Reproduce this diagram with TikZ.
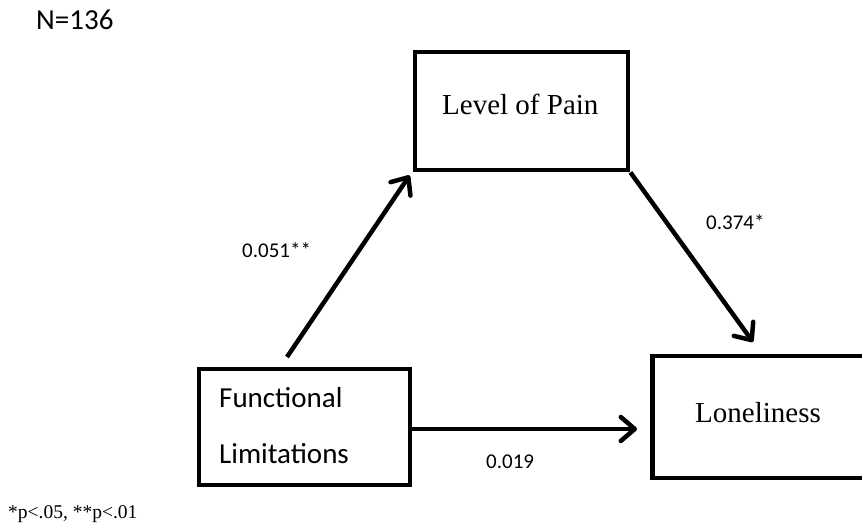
\documentclass[tikz,border=0pt]{standalone}
\usepackage{fontspec}
\setmainfont{Liberation Serif}
\newfontfamily\calibri{Carlito}
\usetikzlibrary{arrows.meta}
\begin{document}
\begin{tikzpicture}[x=1pt,y=-1pt,
  box/.style={draw=black,line width=4.8pt,inner sep=0pt,fill=white},
  arr/.style={draw=black,line width=4.5pt,-{Straight Barb[length=14pt,width=24pt,round]}},
  sans/.style={font=\calibri\fontsize{29}{34}\selectfont,anchor=base west,inner sep=0pt},
  num/.style={font=\calibri\fontsize{21}{25}\selectfont,anchor=base west,inner sep=0pt},
  serif/.style={font=\fontsize{29}{34}\selectfont,anchor=base west,inner sep=0pt}]
\clip (0,0) rectangle (862,529);
\fill[white] (0,0) rectangle (862,529);
% boxes
\node[box,minimum width=213pt,minimum height=118pt] (lp) at (521.5,111) {};
\node[box,minimum width=211pt,minimum height=116pt] (fl) at (304.5,427) {};
\node[box,minimum width=228pt,minimum height=122pt] (lon) at (766.5,417) {};
% box texts
\node[serif] (lpt) at (442,115) {Level of Pain};
\node[sans] (flt1) at (219,407) {Functional};
\node[sans] (flt2) at (219,463) {Limitations};
\node[serif] (lont) at (695,422) {Loneliness};
% free ends
\coordinate (s1) at (287,357);
\coordinate (t2) at (753,342);
\coordinate (t3) at (637,429);
\coordinate (s3) at (410,429);
% connectors
\draw[arr] (s1) -- ([shift={(-3,3)}]lp.south west);
\draw[arr] (lp.south east) -- (t2);
\draw[arr] (s3) -- (t3);
% labels
\node[sans] (n) at (36,30) {N=136};
\node[num] (l1) at (242,258) {0.051**};
\node[num] (l2) at (706,230) {0.374*};
\node[num] (l3) at (486,468) {0.019};
\node[font=\fontsize{19.5}{23}\selectfont,anchor=base west,inner sep=0pt] (fn) at (8,518) {*p<.05, **p<.01};
\end{tikzpicture}
\end{document}
